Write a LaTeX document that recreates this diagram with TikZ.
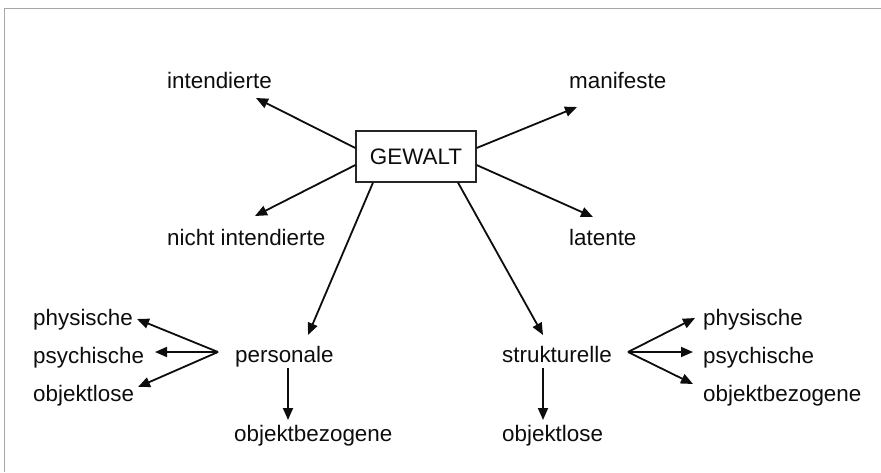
\documentclass[tikz,border=0pt]{standalone}
\usepackage{fontspec}
\setmainfont{Liberation Sans}
\usetikzlibrary{arrows.meta}
\begin{document}
\begin{tikzpicture}[x=1pt,y=-1pt,
  lbl/.style={anchor=base west, inner sep=0pt, font=\fontsize{22.4}{26}\selectfont, text=black!95},
  arr/.style={line width=1.8pt, -{Triangle[length=12pt,width=10pt]}, draw=black!95},
  gbox/.style={draw=black!85, line width=1.2pt, minimum width=120pt, minimum height=51pt, inner sep=0pt, font=\fontsize{22.4}{26}\selectfont, text=black!95}]
\useasboundingbox (0,0) rectangle (881,472);
\draw[black!35, line width=1pt] (4,472) -- (4,8) -- (881,8);

\node[gbox] (gewalt) at (416,156.5) {GEWALT};
\node[lbl] (int) at (167,88) {intendierte};
\node[lbl] (nint) at (167,245) {nicht intendierte};
\node[lbl] (man) at (569,88) {manifeste};
\node[lbl] (lat) at (569,245) {latente};
\node[lbl] (pers) at (235,362) {personale};
\node[lbl] (strk) at (502,362) {strukturelle};
\node[lbl] (pobj) at (234,441) {objektbezogene};
\node[lbl] (sobj) at (502,441) {objektlose};
\node[lbl] (lphy) at (33,325) {physische};
\node[lbl] (lpsy) at (33,363) {psychische};
\node[lbl] (lobj) at (33,401) {objektlose};
\node[lbl] (rphy) at (703,325) {physische};
\node[lbl] (rpsy) at (703,363) {psychische};
\node[lbl] (robj) at (703,401) {objektbezogene};

\coordinate (tint) at (256,98);
\coordinate (tnint) at (255,216);
\coordinate (tman) at (577,107);
\coordinate (tlat) at (593,217);
\coordinate (tpers) at (308,335);
\coordinate (tstrk) at (543,335);
\coordinate (spers) at (288,368);
\coordinate (tpobj) at (288,420);
\coordinate (sstrk) at (543,368);
\coordinate (tsobj) at (543,420);
\coordinate (lfan) at (218,352);
\coordinate (tlphy) at (137,319);
\coordinate (tlpsy) at (155,352);
\coordinate (tlobj) at (138,387);
\coordinate (rfan) at (628,352);
\coordinate (trphy) at (695,318);
\coordinate (trpsy) at (693,352);
\coordinate (trobj) at (693,384);

\draw[arr] ([yshift=8.5pt]gewalt.west) -- (tint);
\draw[arr] ([yshift=-8.5pt]gewalt.west) -- (tnint);
\draw[arr] ([yshift=8.5pt]gewalt.east) -- (tman);
\draw[arr] ([yshift=-8.5pt]gewalt.east) -- (tlat);
\draw[arr] ([xshift=-43pt]gewalt.south) -- (tpers);
\draw[arr] ([xshift=42pt]gewalt.south) -- (tstrk);
\draw[arr] (spers) -- (tpobj);
\draw[arr] (sstrk) -- (tsobj);
\draw[arr] (lfan) -- (tlphy);
\draw[arr] (lfan) -- (tlpsy);
\draw[arr] (lfan) -- (tlobj);
\draw[arr] (rfan) -- (trphy);
\draw[arr] (rfan) -- (trpsy);
\draw[arr] (rfan) -- (trobj);
\end{tikzpicture}
\end{document}
